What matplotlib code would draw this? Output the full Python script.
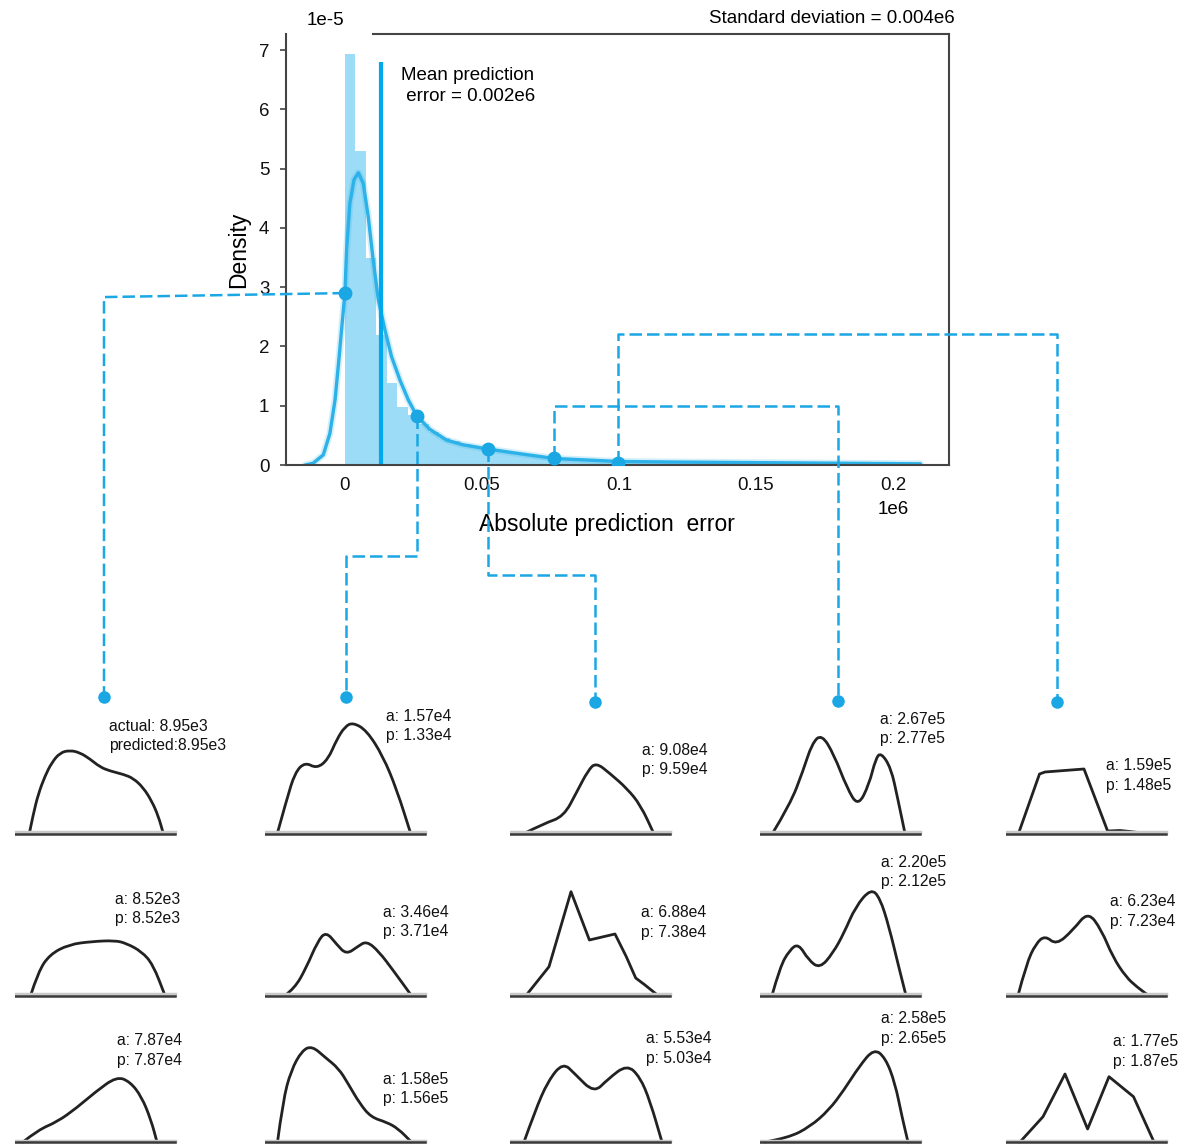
import numpy as np
import matplotlib
matplotlib.use("Agg")
import matplotlib.pyplot as plt
from matplotlib.path import Path
from matplotlib.patches import PathPatch

plt.rcParams['font.family'] = ['Liberation Sans', 'DejaVu Sans']

# ---- main distribution (x in 1e6 units, density in 1e-5 units) ----
bin_w = 0.00383
hist_heights = [6.93, 5.29, 3.50, 2.20, 1.38, 0.98, 0.85, 0.70, 0.55, 0.45,
                0.40, 0.35, 0.31, 0.27, 0.24, 0.21, 0.19, 0.17, 0.15, 0.13,
                0.12, 0.11, 0.10, 0.09, 0.08, 0.07, 0.06, 0.06, 0.05, 0.05,
                0.05, 0.04, 0.04, 0.04, 0.04, 0.04, 0.03, 0.03, 0.03, 0.03,
                0.03, 0.03, 0.03, 0.03, 0.03, 0.02, 0.02, 0.02, 0.02, 0.02,
                0.02, 0.02, 0.02, 0.02, 0.02]

kde_x = [-0.0145, -0.0116, -0.0079, -0.0055, -0.0036, -0.0021, -0.0008, 0.0,
         0.0006, 0.0018, 0.0033, 0.0049, 0.0067, 0.0085, 0.0103, 0.0122, 0.0146,
         0.0170, 0.0201, 0.0231, 0.0262, 0.0310, 0.0371, 0.0432, 0.0521, 0.0639,
         0.0764, 0.0858, 0.0996, 0.1200, 0.1500, 0.1800, 0.2100]
kde_y = [0.0, 0.03, 0.17, 0.53, 1.10, 1.83, 2.50, 2.90,
         3.63, 4.41, 4.81, 4.93, 4.75, 4.19, 3.46, 2.78, 2.28,
         1.83, 1.43, 1.10, 0.83, 0.60, 0.42, 0.34, 0.27, 0.19,
         0.11, 0.09, 0.06, 0.05, 0.04, 0.03, 0.02]

mean_x, mean_top = 0.0131, 6.80
pick_x = [0.0, 0.0262, 0.0521, 0.0764, 0.0996]
pick_y = [2.90, 0.83, 0.27, 0.11, 0.03]

x_ticks = [0, 0.05, 0.1, 0.15, 0.2]
x_tick_labels = ['0', '0.05', '0.1', '0.15', '0.2']
y_ticks = [0, 1, 2, 3, 4, 5, 6, 7]

# ---- sample sketches (row-major, 3 rows x 5 columns) ----
curves_x = [
    [14.3, 18.3, 23.3, 30, 36.7, 45, 55, 65, 75, 85, 95, 108.3, 118.3, 128.3, 136.7, 143.3, 148.3],
    [12.3, 21.7, 30, 40, 51.7, 63, 71.7, 80, 88, 101.7, 118, 131.7, 145.7],
    [14, 34, 53.7, 67, 78, 86, 100, 117, 130.6, 143.8],
    [12.4, 30, 43, 52, 61.6, 74, 87, 98, 109, 115.7, 121, 131, 137.6, 145],
    [12.5, 33.5, 39, 78, 101.6, 114, 124, 140],
    [15.6, 23.3, 34.8, 53.9, 76.8, 99.8, 111, 126.6, 138, 150],
    [20, 29.7, 41, 52.6, 61, 71.8, 81.3, 92.8, 101.6, 113.9, 129, 146.4],
    [16, 39, 61, 79.4, 105, 116.3, 125.7, 135, 148],
    [12, 20, 29.7, 38.4, 48.5, 59.8, 73, 84, 95.5, 111, 120, 129, 138.7, 146],
    [12, 20.4, 29.8, 39, 50.4, 67, 82, 95.5, 106.8, 120, 131, 142.5],
    [8, 23, 42.4, 61.5, 80.7, 101.7, 115, 126.6, 136, 142],
    [12.5, 18, 26, 37, 47, 60, 73.7, 83, 94.7, 106, 121.5, 133, 146.4],
    [14, 25, 38, 53, 65, 84, 98, 117, 130, 140, 152],
    [5, 28, 50, 69, 84, 99, 114, 125.5, 135, 142, 148],
    [14, 37, 59, 81.6, 103, 127.5, 148],
]
curves_y = [
    [0, 19.5, 39.5, 57.5, 70.8, 80.8, 83.2, 80.8, 74.5, 66.5, 62.5, 59.2, 55.2, 45.8, 32.5, 17.5, 0],
    [0, 34, 61, 71.3, 65, 74, 94, 107, 111, 103, 77.3, 44, 0],
    [0, 10, 17, 42, 63, 71, 60, 45, 28.3, 0],
    [0, 28.8, 62.5, 90, 99.5, 78.8, 45.5, 27, 48.8, 75, 81, 65.5, 35.5, 0],
    [0, 59.5, 61.5, 64.5, 2.5, 3, 2, 0],
    [0, 24, 41, 51, 54, 55, 52.3, 44, 31, 0],
    [0, 7.3, 27.3, 54, 64, 51, 41, 49, 54.5, 44, 24, 0],
    [0, 28.8, 103.8, 55.5, 61.5, 38.8, 17.5, 10.5, 0],
    [0, 28.8, 45.5, 52, 35.5, 27, 42.5, 62.5, 88.8, 107, 97.5, 68.8, 28.8, 0],
    [0, 31.8, 51.8, 60, 50.5, 65.5, 84, 65.5, 38.5, 18.5, 8.5, 0],
    [0, 12, 20.3, 34, 50.3, 65.5, 60.3, 45.3, 22, 0],
    [0, 41.5, 71.5, 91.5, 96, 84.8, 73.5, 58.5, 38.5, 24.8, 19.8, 13.5, 0],
    [0, 31, 61, 79.5, 68, 49, 63, 77.5, 65, 41, 0],
    [0, 4, 15.3, 32, 52, 75.3, 93.5, 84, 59, 25.3, 0],
    [0, 25.3, 68, 13, 65.3, 45.3, 0],
]
sharp = [4, 7, 14]
sample_labels = [
    "actual: 8.95e3\npredicted:8.95e3", "a: 1.57e4\np: 1.33e4", "a: 9.08e4\np: 9.59e4",
    "a: 2.67e5\np: 2.77e5", "a: 1.59e5\np: 1.48e5",
    "a: 8.52e3\np: 8.52e3", "a: 3.46e4\np: 3.71e4", "a: 6.88e4\np: 7.38e4",
    "a: 2.20e5\np: 2.12e5", "a: 6.23e4\np: 7.23e4",
    "a: 7.87e4\np: 7.87e4", "a: 1.58e5\np: 1.56e5", "a: 5.53e4\np: 5.03e4",
    "a: 2.58e5\np: 2.65e5", "a: 1.77e5\np: 1.87e5",
]

# ---- layout (pixels) ----
W, H = 1189, 1144
col_left = [15, 265, 510, 760, 1006]
row_base = [833.5, 995.5, 1142]
base_len = 160
# label anchor: left x and height of first text line centre above baseline
label_pos = [(94, 107), (121, 117), (131.5, 83), (120, 114), (100, 67.5),
             (100, 96), (117.7, 83), (131, 82.5), (121, 133), (104, 93.5),
             (101.7, 101), (117.7, 62.5), (135.8, 103), (121, 123), (107, 100)]
dot_px = [(104, 697), (346, 697), (595, 701.5), (837.5, 701), (1056.7, 702)]
elbow_y = [None, 556, 575, 406, 334]

blue_fill = '#9cdcf6'
blue_line = '#2cb1e8'
blue_mean = '#00a9ec'
blue_dash = '#1aa7e4'
spine_c = '#444444'


def px_rect(x0, y0, x1, y1):
    return [x0 / W, 1 - y1 / H, (x1 - x0) / W, (y1 - y0) / H]


def sketch_path(xs, ys, smooth):
    pts = list(zip(xs, ys))
    if not smooth:
        return Path(pts)
    verts = [pts[0]]
    codes = [Path.MOVETO]
    for i in range(1, len(pts) - 1):
        mx = (pts[i][0] + pts[i + 1][0]) / 2
        my = (pts[i][1] + pts[i + 1][1]) / 2
        verts += [pts[i], (mx, my)]
        codes += [Path.CURVE3, Path.CURVE3]
    verts.append(pts[-1])
    codes.append(Path.LINETO)
    return Path(verts, codes)


fig = plt.figure(figsize=(W / 100, H / 100), dpi=100)

ax = fig.add_axes(px_rect(286, 34, 949, 465))
ax.set_xlim(-0.0215, 0.2204)
ax.set_ylim(0, 7.27)

edges = np.arange(len(hist_heights) + 1) * bin_w
ax.stairs(hist_heights, edges, fill=True, color=blue_fill, lw=0)
ax.plot(kde_x, kde_y, color=blue_line, lw=5, alpha=0.2, solid_capstyle='round')
ax.plot(kde_x, kde_y, color=blue_line, lw=2.4, solid_capstyle='round',
        solid_joinstyle='round')
ax.vlines(mean_x, 0, mean_top, color=blue_mean, lw=3)
ax.plot(pick_x, pick_y, 'o', color=blue_dash, ms=9, zorder=5)

ax.set_xticks(x_ticks)
ax.set_xticklabels(x_tick_labels)
ax.set_yticks(y_ticks)
ax.tick_params(axis='x', length=0, pad=9, labelsize=13.5, colors='#111111')
ax.tick_params(axis='y', length=4, width=1.2, pad=8, labelsize=13.5,
               color=spine_c, labelcolor='#111111')
for s in ax.spines.values():
    s.set_color(spine_c)
    s.set_linewidth(1.5)
ax.spines['top'].set_bounds(0.0102, 0.2204)

ax.set_xlabel('Absolute prediction  error', fontsize=16.5)
ax.xaxis.set_label_coords(0.484, -0.137)
ax.xaxis.label.set_va('center')
ax.set_ylabel('Density', fontsize=16.5)
ax.yaxis.set_label_coords(-0.054, 0.5)

ax.text(0.059, 1.032, '1e-5', transform=ax.transAxes, fontsize=13.5,
        ha='center', va='center')
ax.text(0.9155, -0.104, '1e6', transform=ax.transAxes, fontsize=13.5,
        ha='center', va='center')
ax.text(1.009, 1.037, 'Standard deviation = 0.004e6', transform=ax.transAxes,
        fontsize=13.5, ha='right', va='center')
ax.text(0.0204, 6.39, 'Mean prediction\n error = 0.002e6', fontsize=13.5,
        ha='left', va='center', linespacing=1.35)

# ---- sample panels ----
for i in range(15):
    r, c = divmod(i, 5)
    x0, yb = col_left[c], row_base[r]
    pa = fig.add_axes(px_rect(x0, yb - 136, x0 + 170, yb + 4))
    pa.set_xlim(0, 170)
    pa.set_ylim(-4, 136)
    pa.axis('off')
    pa.plot([0, base_len], [1.2, 1.2], color='#c9c9c9', lw=2.5)
    pa.plot([0, base_len], [0, 0], color='#3a3a3a', lw=1.8)
    path = sketch_path(curves_x[i], curves_y[i], i not in sharp)
    pa.add_patch(PathPatch(path, fill=False, edgecolor='#222222', lw=2,
                           joinstyle='round', capstyle='round'))
    lx, ly = label_pos[i]
    pa.text(lx, ly - 9.5, sample_labels[i], fontsize=11.3, ha='left', va='center',
            linespacing=1.35, color='#111111')

# ---- connectors on a pixel overlay ----
ov = fig.add_axes([0, 0, 1, 1])
ov.set_xlim(0, W)
ov.set_ylim(H, 0)
ov.axis('off')
ov.set_zorder(10)

for k in range(5):
    d = ax.transData.transform((pick_x[k], pick_y[k]))
    sx, sy = ov.transData.inverted().transform(d)
    dx, dy = dot_px[k]
    if elbow_y[k] is None:
        xs = [sx, dx, dx]
        ys = [sy, sy + 4, dy]
    else:
        xs = [sx, sx, dx, dx]
        ys = [sy, elbow_y[k], elbow_y[k], dy]
    ov.plot(xs, ys, color=blue_dash, lw=1.8, ls=(0, (5, 2)))
    ov.plot([dx], [dy], 'o', color=blue_dash, ms=8)

fig.savefig('out.png', dpi=100)
